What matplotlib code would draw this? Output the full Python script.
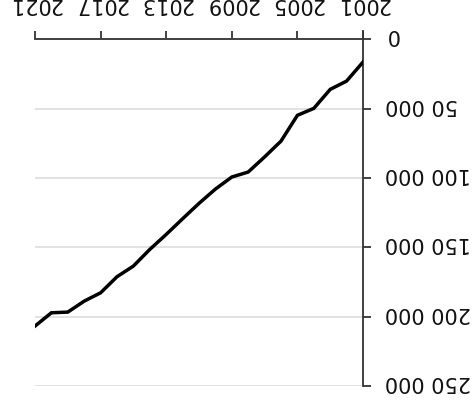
import matplotlib
matplotlib.use("Agg")
import matplotlib.pyplot as plt
import matplotlib.transforms as mtransforms
from matplotlib.ticker import FuncFormatter

years = list(range(2001, 2022))
values = [16400, 30100, 36100, 49800, 54800, 73400, 84800, 95700, 99300, 108000,
          118300, 129400, 140700, 151500, 163500, 171200, 182800, 188800, 196700,
          197200, 206800]
x_ticks = [2001, 2005, 2009, 2013, 2017, 2021]
y_ticks = [0, 50000, 100000, 150000, 200000, 250000]

fig = plt.figure(figsize=(4.75, 4.09), dpi=100)
ax = fig.add_axes([35 / 475, 23 / 409, 328 / 475, 355 / 409])

ax.plot(years, values, color="black", lw=2.5, solid_joinstyle="miter", zorder=3)

ax.set_xlim(2021, 2001)
ax.set_ylim(250000, -6000)
ax.set_xticks(x_ticks)
ax.set_yticks(y_ticks)
ax.yaxis.set_major_formatter(FuncFormatter(lambda v, p: f"{int(v):,}".replace(",", " ")))

ax.xaxis.tick_top()
ax.yaxis.tick_right()
ax.spines["left"].set_visible(False)
ax.spines["bottom"].set_visible(False)
ax.spines["top"].set_position(("data", 0))
for s in ("top", "right"):
    ax.spines[s].set_color("#333333")
    ax.spines[s].set_linewidth(1.3)

ax.tick_params(axis="both", direction="out", length=6, width=1.3, color="#333333",
               labelsize=15, labelrotation=180, labelcolor="#111111")
ax.tick_params(axis="x", pad=12)
ax.tick_params(axis="y", pad=10)
shift_up = mtransforms.ScaledTranslation(0, 0.04, fig.dpi_scale_trans)
for lab in ax.get_yticklabels():
    lab.set_rotation_mode("default")
    lab.set_ha("left")
    lab.set_va("center")
    lab.set_transform(lab.get_transform() + shift_up)

ax.yaxis.grid(True, color="#dddddd", lw=1.2, zorder=0)
ax.xaxis.grid(False)
ax.set_axisbelow(True)

fig.savefig("out.png", dpi=100)
